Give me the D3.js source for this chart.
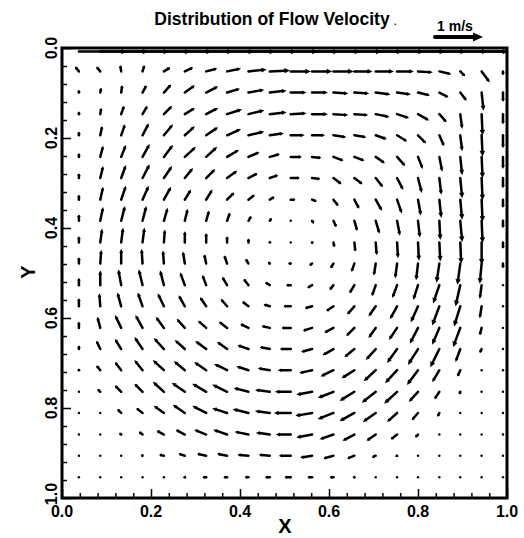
<!DOCTYPE html>
<html>
<head>
<meta charset="utf-8">
<script src="https://cdn.jsdelivr.net/npm/d3@7"></script>
<style>
  body { margin: 0; background: #fff; }
  svg { display: block; }
  text { font-family: "Liberation Sans", Arial, sans-serif; font-weight: bold; fill: #000; }
</style>
</head>
<body>
<script>
// chart size
const width = 524;
const height = 538;

// grid node positions
const xGrid = [0.038, 0.086, 0.133, 0.181, 0.229, 0.276, 0.324, 0.371, 0.419, 0.467, 0.514,
               0.562, 0.610, 0.657, 0.705, 0.753, 0.800, 0.848, 0.895, 0.943, 0.991];
const yGrid = [0.008, 0.052, 0.099, 0.147, 0.194, 0.242, 0.289, 0.337, 0.384, 0.432, 0.479,
               0.527, 0.574, 0.622, 0.669, 0.716, 0.764, 0.811, 0.859, 0.906, 0.954];

// horizontal velocity (m/s), one row per yGrid value
const U = [
  [1,1,1,1,1,1,1,1,1,1,1,1,1,1,1,1,1,1,1,1,1],
  [-0.08,-0.08,-0.02,0.04,0.13,0.17,0.23,0.29,0.38,0.42,0.42,0.42,0.42,0.38,0.38,0.35,0.31,0.25,0.10,0.17,0],
  [0,0.02,0.02,0.08,0.15,0.21,0.25,0.27,0.33,0.35,0.33,0.33,0.31,0.31,0.31,0.29,0.25,0.19,0.13,0.04,0],
  [0,0.02,0.06,0.10,0.17,0.21,0.25,0.31,0.33,0.35,0.33,0.33,0.31,0.29,0.29,0.25,0.23,0.15,0.04,0.02,0],
  [0,0.04,0.08,0.13,0.19,0.21,0.25,0.29,0.33,0.29,0.29,0.27,0.27,0.25,0.23,0.21,0.17,0.10,0.04,0.02,0],
  [0,0.06,0.10,0.15,0.19,0.23,0.23,0.25,0.23,0.21,0.23,0.19,0.21,0.21,0.19,0.17,0.10,0.06,0.04,0.02,0],
  [0,0.06,0.10,0.15,0.17,0.17,0.19,0.21,0.19,0.17,0.19,0.17,0.17,0.17,0.15,0.13,0.08,0.04,0.04,0.02,0],
  [0,0.06,0.10,0.13,0.15,0.13,0.13,0.15,0.13,0.10,0.10,0.10,0.10,0.10,0.13,0.10,0.06,0.04,0.04,0.02,0],
  [0,0.06,0.08,0.08,0.08,0.06,0.06,0.06,0.06,0.04,0.02,0.04,0.06,0.06,0.08,0.06,0.04,0.02,0.04,0.02,0],
  [0,0.04,0.04,0.04,0.02,0,0,0,0,0,0,0.02,0.02,0.02,0.02,0.02,0.02,0.02,0.02,0,0],
  [0,0.02,0,-0.02,-0.02,-0.04,-0.04,-0.06,-0.06,-0.04,-0.06,-0.06,-0.06,-0.06,-0.04,-0.04,-0.04,-0.06,-0.06,-0.04,0],
  [0,0,-0.06,-0.08,-0.08,-0.10,-0.08,-0.10,-0.10,-0.10,-0.10,-0.10,-0.08,-0.10,-0.08,-0.10,-0.10,-0.13,-0.10,-0.04,0],
  [0,-0.02,-0.08,-0.10,-0.13,-0.13,-0.13,-0.13,-0.13,-0.13,-0.15,-0.15,-0.15,-0.15,-0.15,-0.15,-0.15,-0.15,-0.13,-0.04,0],
  [0,-0.06,-0.13,-0.15,-0.17,-0.17,-0.17,-0.17,-0.17,-0.17,-0.19,-0.19,-0.19,-0.17,-0.15,-0.17,-0.17,-0.15,-0.15,-0.04,0],
  [0,-0.08,-0.13,-0.17,-0.21,-0.21,-0.23,-0.21,-0.23,-0.21,-0.23,-0.23,-0.23,-0.21,-0.21,-0.21,-0.21,-0.19,-0.10,-0.04,0],
  [0,-0.08,-0.13,-0.17,-0.23,-0.23,-0.25,-0.27,-0.25,-0.25,-0.27,-0.27,-0.27,-0.27,-0.25,-0.25,-0.23,-0.15,-0.06,0,0],
  [0,-0.06,-0.13,-0.17,-0.23,-0.27,-0.29,-0.31,-0.31,-0.31,-0.33,-0.33,-0.33,-0.31,-0.29,-0.27,-0.19,-0.10,-0.02,0,0],
  [0,-0.02,-0.08,-0.13,-0.21,-0.25,-0.29,-0.31,-0.33,-0.31,-0.35,-0.35,-0.33,-0.31,-0.27,-0.21,-0.13,-0.04,0,0,0],
  [0,-0.02,-0.04,-0.08,-0.15,-0.19,-0.25,-0.29,-0.29,-0.29,-0.31,-0.33,-0.29,-0.25,-0.19,-0.13,-0.06,-0.02,0,0,0],
  [0,0,-0.02,-0.04,-0.10,-0.13,-0.19,-0.21,-0.23,-0.23,-0.25,-0.25,-0.21,-0.15,-0.08,-0.04,-0.02,0,0,0,0],
  [0,0,0,0,-0.02,-0.04,-0.08,-0.08,-0.08,-0.10,-0.13,-0.10,-0.08,-0.04,-0.02,0,0,0,0,0,0]
];

// vertical velocity (m/s), positive toward larger Y (down the page)
const V = [
  [0,0,0,0,0,0,0,0,0,0,0,0,0,0,0,0,0,0,0,0,0],
  [-0.10,-0.10,-0.13,-0.13,-0.08,-0.08,-0.06,-0.06,-0.04,-0.02,0,0,0,0,0,0,0.02,0.06,0.10,0.23,0.08],
  [-0.06,-0.10,-0.15,-0.15,-0.17,-0.15,-0.13,-0.08,-0.06,-0.04,0,0,0.02,0.02,0.04,0.04,0.06,0.10,0.17,0.38,0.19],
  [-0.06,-0.13,-0.17,-0.17,-0.17,-0.13,-0.13,-0.10,-0.08,-0.04,-0.02,0,0.02,0.02,0.06,0.08,0.13,0.17,0.31,0.44,0.21],
  [-0.08,-0.19,-0.23,-0.25,-0.23,-0.19,-0.17,-0.13,-0.08,-0.04,0,0,0.04,0.04,0.08,0.13,0.17,0.23,0.33,0.44,0.27],
  [-0.08,-0.23,-0.25,-0.27,-0.25,-0.21,-0.21,-0.15,-0.10,-0.06,0,0.02,0.08,0.08,0.13,0.19,0.25,0.31,0.38,0.44,0.25],
  [-0.10,-0.25,-0.27,-0.29,-0.25,-0.21,-0.19,-0.15,-0.10,-0.06,0,0.02,0.13,0.13,0.19,0.25,0.31,0.35,0.42,0.46,0.21],
  [-0.10,-0.27,-0.29,-0.29,-0.27,-0.21,-0.21,-0.15,-0.10,-0.06,0,0.04,0.13,0.19,0.23,0.29,0.33,0.38,0.42,0.46,0.17],
  [-0.13,-0.29,-0.31,-0.31,-0.27,-0.25,-0.21,-0.17,-0.10,-0.06,0,0.06,0.13,0.21,0.27,0.31,0.35,0.40,0.44,0.46,0.15],
  [-0.13,-0.29,-0.31,-0.31,-0.27,-0.23,-0.19,-0.13,-0.08,-0.04,0,0.04,0.10,0.19,0.27,0.33,0.38,0.40,0.44,0.46,0.13],
  [-0.13,-0.29,-0.31,-0.31,-0.27,-0.25,-0.19,-0.17,-0.10,-0.04,0,0.04,0.10,0.17,0.25,0.31,0.35,0.40,0.44,0.42,0.10],
  [-0.15,-0.31,-0.33,-0.33,-0.31,-0.27,-0.21,-0.17,-0.13,-0.06,0,0.06,0.10,0.17,0.23,0.27,0.31,0.38,0.44,0.29,0.02],
  [-0.17,-0.27,-0.29,-0.29,-0.27,-0.23,-0.19,-0.15,-0.10,-0.04,0,0.04,0.10,0.17,0.21,0.27,0.33,0.40,0.42,0.25,0],
  [-0.13,-0.23,-0.27,-0.27,-0.23,-0.19,-0.15,-0.13,-0.08,-0.04,0,0.06,0.10,0.17,0.21,0.25,0.33,0.35,0.40,0.15,0],
  [-0.08,-0.17,-0.21,-0.25,-0.23,-0.19,-0.17,-0.15,-0.08,-0.04,0,0.06,0.13,0.17,0.23,0.29,0.33,0.38,0.27,0.08,0],
  [-0.04,-0.10,-0.17,-0.21,-0.21,-0.19,-0.17,-0.13,-0.08,-0.04,0,0.06,0.13,0.17,0.23,0.27,0.31,0.25,0.13,0.02,0],
  [-0.02,-0.06,-0.13,-0.17,-0.21,-0.19,-0.17,-0.15,-0.08,-0.04,0,0.06,0.13,0.19,0.23,0.25,0.21,0.15,0.06,0,0],
  [0,-0.02,-0.08,-0.10,-0.15,-0.17,-0.15,-0.10,-0.08,-0.04,0,0.06,0.13,0.17,0.19,0.19,0.15,0.08,0.02,0,0],
  [0,0,-0.04,-0.06,-0.08,-0.10,-0.10,-0.10,-0.06,-0.04,0,0.06,0.10,0.13,0.13,0.10,0.06,0.02,0,0,0],
  [0,0,0,-0.02,-0.02,-0.04,-0.04,-0.04,-0.02,-0.02,0,0.04,0.06,0.06,0.04,0.02,0,0,0,0,0],
  [0,0,0,0,0,0,0,0,0,0,0,0,0,0,0,0,0,0,0,0,0]
];

// axis ticks and labels
const majorTicks = [0, 0.2, 0.4, 0.6, 0.8, 1.0];
const minorTicks = [0.04, 0.08, 0.12, 0.16, 0.24, 0.28, 0.32, 0.36, 0.44, 0.48, 0.52, 0.56,
                    0.64, 0.68, 0.72, 0.76, 0.84, 0.88, 0.92, 0.96];
const refSpeed = 1; // reference vector, m/s

const svg = d3.select('body').append('svg')
    .attr('width', width)
    .attr('height', height);

// plot area
const x = d3.scaleLinear().domain([0, 1]).range([62, 507]);
const y = d3.scaleLinear().domain([0, 1]).range([48, 498]);
// pixels per m/s for vector length
const speed = d3.scaleLinear().domain([0, 1]).range([0, 48]);

svg.append('clipPath').attr('id', 'plotClip')
  .append('rect')
    .attr('x', x(0)).attr('y', y(0))
    .attr('width', x(1) - x(0)).attr('height', y(1) - y(0));

// draws an arrow from (x0,y0) by (dx,dy) pixels
function arrow(g, x0, y0, dx, dy, shaft, hl, hw) {
  const len = Math.hypot(dx, dy);
  const ux = dx / len, uy = dy / len;
  const x1 = x0 + dx, y1 = y0 + dy;
  const bx = x1 - ux * hl, by = y1 - uy * hl;
  g.append('line')
      .attr('x1', x0).attr('y1', y0)
      .attr('x2', bx + ux * 0.5).attr('y2', by + uy * 0.5)
      .attr('stroke', '#000')
      .attr('stroke-width', shaft)
      .attr('stroke-linecap', 'round');
  g.append('polygon')
      .attr('points', [
        [x1, y1],
        [bx - uy * hw, by + ux * hw],
        [bx + uy * hw, by - ux * hw]
      ].map(p => p.join(',')).join(' '))
      .attr('fill', '#000');
}

// vector field
const field = svg.append('g').attr('clip-path', 'url(#plotClip)');
yGrid.forEach(function(yv, j) {
  xGrid.forEach(function(xv, i) {
    const x0 = x(xv), y0 = y(yv);
    const dx = speed(U[j][i]), dy = speed(V[j][i]);
    const len = Math.hypot(dx, dy);
    if (len < 1.5) {
      field.append('circle').attr('cx', x0).attr('cy', y0).attr('r', 1.2).attr('fill', '#000');
    } else {
      const hl = Math.min(5.5, Math.max(2.5, len * 0.28));
      const hw = Math.min(2.7, Math.max(1.8, len * 0.13));
      arrow(field, x0, y0, dx, dy, 2.5, hl, hw);
    }
  });
});

// ticks, pointing into the plot
const axisG = svg.append('g');
axisG.append('g')
    .attr('transform', `translate(0,${y(1)})`)
    .call(d3.axisBottom(x).tickValues(minorTicks).tickSize(-5).tickFormat(''));
axisG.append('g')
    .attr('transform', `translate(0,${y(1)})`)
    .call(d3.axisBottom(x).tickValues(majorTicks).tickSize(-9).tickFormat(''));
axisG.append('g')
    .attr('transform', `translate(${x(0)},0)`)
    .call(d3.axisLeft(y).tickValues(minorTicks).tickSize(-5).tickFormat(''));
axisG.append('g')
    .attr('transform', `translate(${x(0)},0)`)
    .call(d3.axisLeft(y).tickValues(majorTicks).tickSize(-9).tickFormat(''));
axisG.selectAll('.domain').remove();
axisG.selectAll('.tick line').attr('stroke', '#000').attr('stroke-width', 1.5);

// frame
svg.append('rect')
    .attr('x', x(0)).attr('y', y(0))
    .attr('width', x(1) - x(0)).attr('height', y(1) - y(0))
    .attr('fill', 'none')
    .attr('stroke', '#000')
    .attr('stroke-width', 3);

// tick labels
const fmt = d3.format('.1f');
svg.selectAll('text.xlab')
  .data(majorTicks)
  .enter().append('text')
    .attr('class', 'xlab')
    .attr('x', d => x(d))
    .attr('y', 517)
    .attr('text-anchor', 'middle')
    .style('font-size', '16px')
    .text(fmt);

svg.selectAll('text.ylab')
  .data(majorTicks)
  .enter().append('text')
    .attr('class', 'ylab')
    .attr('transform', d => `translate(57,${d === 1 ? y(d) - 4 : y(d)}) rotate(-90)`)
    .attr('text-anchor', 'middle')
    .style('font-size', '16px')
    .text(fmt);

// axis titles
svg.append('text')
    .attr('x', 285).attr('y', 533)
    .attr('text-anchor', 'middle')
    .style('font-size', '20px')
    .text('X');

svg.append('text')
    .attr('transform', 'translate(35,272) rotate(-90)')
    .attr('text-anchor', 'middle')
    .style('font-size', '20px')
    .text('Y');

// title
svg.append('text')
    .attr('x', 272).attr('y', 25)
    .attr('text-anchor', 'middle')
    .style('font-size', '17.5px')
    .text('Distribution of Flow Velocity');
svg.append('text')
    .attr('x', 394).attr('y', 25)
    .style('font-size', '9px')
    .text('.');

// reference vector
const refG = svg.append('g');
refG.append('text')
    .attr('x', 455).attr('y', 31)
    .attr('text-anchor', 'middle')
    .style('font-size', '14px')
    .text(refSpeed + ' m/s');
arrow(refG, 435, 37, speed(refSpeed), 0, 4, 10, 4.5);
</script>
</body>
</html>
